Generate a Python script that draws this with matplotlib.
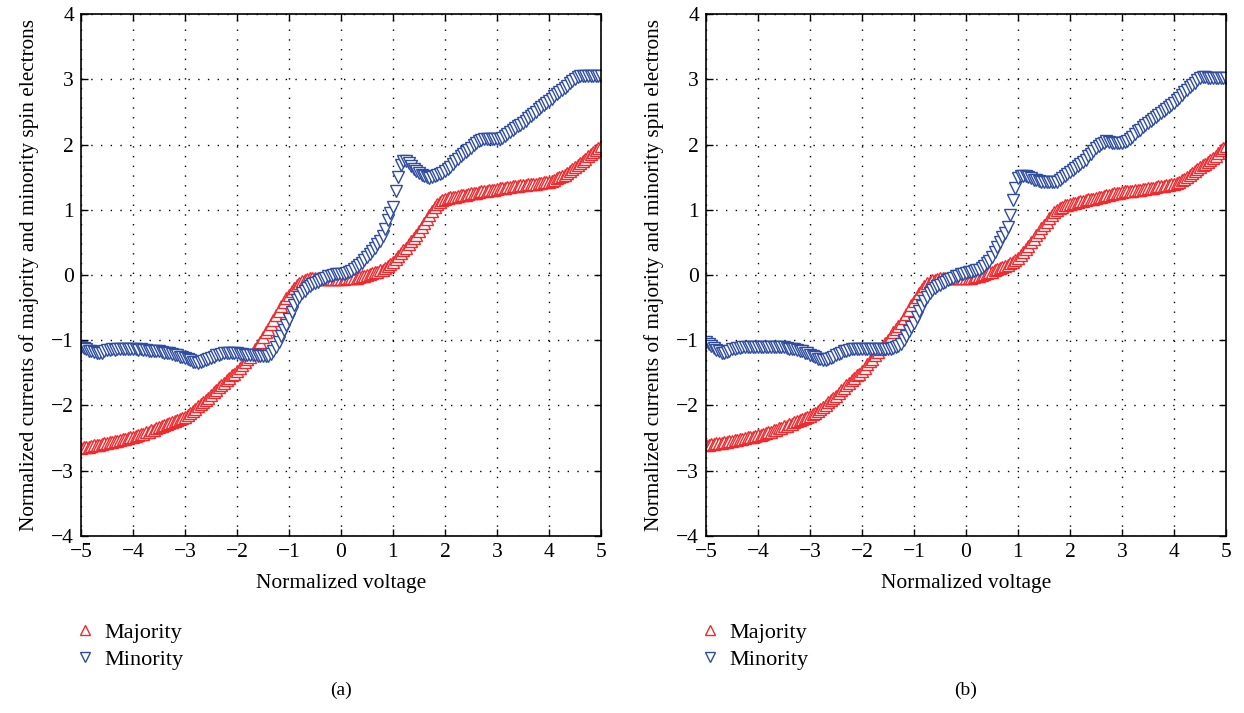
import numpy as np
import matplotlib
matplotlib.use("Agg")
import matplotlib.pyplot as plt
from matplotlib.lines import Line2D

plt.rcParams['font.family'] = ['Liberation Serif', 'DejaVu Serif']
plt.rcParams['font.size'] = 15

# normalized voltage, -5 .. 5 in steps of 0.05 (201 samples)
voltage = np.linspace(-5, 5, 201)

# panel (a)
major_a = [
    -2.65, -2.64, -2.64, -2.63, -2.62, -2.61, -2.61, -2.60, -2.59, -2.58, -2.57, -2.56, -2.56, -2.55, -2.54, -2.53, -2.52, -2.51, -2.50, -2.49,
    -2.48, -2.47, -2.45, -2.44, -2.43, -2.41, -2.40, -2.38, -2.37, -2.35, -2.33, -2.32, -2.30, -2.29, -2.27, -2.25, -2.24, -2.22, -2.20, -2.19,
    -2.17, -2.14, -2.11, -2.08, -2.05, -2.01, -1.98, -1.94, -1.91, -1.88, -1.84, -1.80, -1.76, -1.72, -1.69, -1.65, -1.61, -1.58, -1.54, -1.51,
    -1.47, -1.43, -1.38, -1.34, -1.29, -1.25, -1.19, -1.14, -1.08, -1.02, -0.95, -0.88, -0.82, -0.75, -0.69, -0.62, -0.55, -0.48, -0.42, -0.36,
    -0.30, -0.25, -0.20, -0.16, -0.12, -0.09, -0.07, -0.06, -0.05, -0.05, -0.05, -0.05, -0.06, -0.06, -0.06, -0.06, -0.06, -0.06, -0.06, -0.06,
    -0.06, -0.06, -0.05, -0.05, -0.05, -0.04, -0.04, -0.03, -0.02, -0.01, 0.00, 0.01, 0.03, 0.04, 0.05, 0.07, 0.08, 0.11, 0.14, 0.17,
    0.20, 0.24, 0.29, 0.33, 0.38, 0.42, 0.47, 0.52, 0.57, 0.62, 0.67, 0.73, 0.79, 0.86, 0.92, 0.98, 1.04, 1.09, 1.12, 1.15,
    1.17, 1.18, 1.19, 1.20, 1.20, 1.21, 1.22, 1.23, 1.23, 1.24, 1.25, 1.26, 1.26, 1.27, 1.28, 1.29, 1.29, 1.30, 1.31, 1.31,
    1.32, 1.33, 1.34, 1.34, 1.35, 1.35, 1.36, 1.37, 1.37, 1.38, 1.38, 1.38, 1.39, 1.39, 1.40, 1.40, 1.41, 1.41, 1.42, 1.42,
    1.43, 1.44, 1.46, 1.48, 1.50, 1.52, 1.54, 1.57, 1.60, 1.63, 1.66, 1.69, 1.72, 1.75, 1.78, 1.82, 1.85, 1.88, 1.91, 1.94,
    1.97,
]
minor_a = [
    -1.11, -1.12, -1.14, -1.16, -1.17, -1.18, -1.19, -1.19, -1.19, -1.17, -1.15, -1.15, -1.14, -1.15, -1.14, -1.14, -1.14, -1.13, -1.14, -1.14,
    -1.14, -1.14, -1.15, -1.14, -1.15, -1.15, -1.16, -1.16, -1.17, -1.17, -1.17, -1.18, -1.19, -1.20, -1.20, -1.21, -1.22, -1.23, -1.25, -1.26,
    -1.27, -1.29, -1.31, -1.33, -1.34, -1.35, -1.34, -1.32, -1.30, -1.28, -1.27, -1.25, -1.23, -1.22, -1.21, -1.20, -1.20, -1.19, -1.20, -1.20,
    -1.20, -1.21, -1.21, -1.22, -1.22, -1.23, -1.23, -1.23, -1.24, -1.24, -1.24, -1.24, -1.24, -1.21, -1.17, -1.10, -1.02, -0.94, -0.85, -0.77,
    -0.68, -0.56, -0.46, -0.39, -0.33, -0.28, -0.24, -0.20, -0.17, -0.14, -0.12, -0.10, -0.08, -0.06, -0.04, -0.02, -0.01, 0.00, 0.01, 0.01,
    0.02, 0.02, 0.03, 0.04, 0.06, 0.09, 0.12, 0.16, 0.19, 0.23, 0.27, 0.32, 0.37, 0.42, 0.47, 0.52, 0.60, 0.70, 0.84, 0.95,
    1.05, 1.28, 1.50, 1.68, 1.75, 1.75, 1.71, 1.67, 1.63, 1.59, 1.56, 1.53, 1.51, 1.50, 1.49, 1.50, 1.51, 1.53, 1.55, 1.57,
    1.60, 1.63, 1.66, 1.70, 1.74, 1.78, 1.82, 1.86, 1.89, 1.92, 1.95, 1.99, 2.03, 2.06, 2.07, 2.08, 2.08, 2.08, 2.08, 2.08,
    2.08, 2.09, 2.10, 2.13, 2.16, 2.19, 2.22, 2.25, 2.28, 2.30, 2.33, 2.36, 2.40, 2.43, 2.47, 2.50, 2.54, 2.57, 2.60, 2.64,
    2.67, 2.70, 2.74, 2.77, 2.80, 2.84, 2.87, 2.90, 2.94, 2.97, 3.00, 3.03, 3.05, 3.05, 3.05, 3.05, 3.05, 3.05, 3.05, 3.05,
    3.05,
]

# panel (b)
major_b = [
    -2.60, -2.60, -2.59, -2.59, -2.58, -2.58, -2.57, -2.56, -2.56, -2.55, -2.54, -2.53, -2.53, -2.52, -2.51, -2.50, -2.49, -2.48, -2.48, -2.47,
    -2.46, -2.45, -2.44, -2.42, -2.41, -2.40, -2.38, -2.37, -2.35, -2.34, -2.32, -2.31, -2.29, -2.28, -2.26, -2.24, -2.23, -2.21, -2.19, -2.18,
    -2.16, -2.13, -2.11, -2.08, -2.05, -2.02, -1.99, -1.95, -1.92, -1.88, -1.85, -1.81, -1.77, -1.73, -1.69, -1.65, -1.61, -1.58, -1.54, -1.51,
    -1.47, -1.42, -1.37, -1.32, -1.28, -1.23, -1.18, -1.13, -1.09, -1.04, -0.99, -0.94, -0.88, -0.83, -0.78, -0.73, -0.66, -0.60, -0.53, -0.46,
    -0.40, -0.34, -0.28, -0.22, -0.17, -0.13, -0.10, -0.08, -0.07, -0.06, -0.05, -0.05, -0.05, -0.05, -0.05, -0.05, -0.05, -0.05, -0.05, -0.05,
    -0.05, -0.05, -0.04, -0.03, -0.02, -0.01, 0.00, 0.01, 0.03, 0.04, 0.05, 0.07, 0.09, 0.11, 0.12, 0.14, 0.15, 0.18, 0.20, 0.23,
    0.26, 0.31, 0.36, 0.40, 0.45, 0.50, 0.55, 0.61, 0.66, 0.72, 0.77, 0.82, 0.87, 0.92, 0.97, 1.00, 1.03, 1.05, 1.07, 1.08,
    1.09, 1.10, 1.11, 1.12, 1.13, 1.14, 1.15, 1.16, 1.17, 1.17, 1.18, 1.19, 1.20, 1.21, 1.22, 1.23, 1.24, 1.25, 1.25, 1.26,
    1.27, 1.28, 1.28, 1.29, 1.29, 1.30, 1.31, 1.31, 1.32, 1.32, 1.33, 1.34, 1.34, 1.35, 1.36, 1.36, 1.37, 1.38, 1.38, 1.39,
    1.40, 1.41, 1.43, 1.45, 1.47, 1.50, 1.53, 1.56, 1.59, 1.62, 1.65, 1.68, 1.70, 1.73, 1.77, 1.80, 1.83, 1.87, 1.91, 1.94,
    1.98,
]
minor_b = [
    -1.03, -1.06, -1.09, -1.12, -1.15, -1.17, -1.19, -1.19, -1.18, -1.16, -1.14, -1.13, -1.12, -1.12, -1.11, -1.11, -1.11, -1.10, -1.10, -1.10,
    -1.10, -1.10, -1.10, -1.10, -1.10, -1.10, -1.10, -1.11, -1.11, -1.11, -1.11, -1.12, -1.13, -1.14, -1.14, -1.15, -1.16, -1.17, -1.19, -1.20,
    -1.22, -1.24, -1.26, -1.28, -1.29, -1.30, -1.30, -1.28, -1.27, -1.25, -1.23, -1.21, -1.19, -1.17, -1.16, -1.15, -1.14, -1.14, -1.14, -1.14,
    -1.14, -1.14, -1.14, -1.14, -1.14, -1.14, -1.14, -1.14, -1.14, -1.14, -1.14, -1.13, -1.12, -1.11, -1.09, -1.05, -0.99, -0.93, -0.86, -0.80,
    -0.73, -0.64, -0.55, -0.47, -0.40, -0.33, -0.27, -0.23, -0.20, -0.17, -0.15, -0.12, -0.10, -0.08, -0.06, -0.04, -0.02, -0.01, 0.01, 0.02,
    0.03, 0.04, 0.05, 0.06, 0.07, 0.08, 0.11, 0.14, 0.18, 0.22, 0.27, 0.35, 0.43, 0.50, 0.58, 0.65, 0.73, 0.92, 1.15, 1.33,
    1.48, 1.52, 1.52, 1.51, 1.50, 1.48, 1.46, 1.45, 1.44, 1.43, 1.42, 1.42, 1.42, 1.42, 1.42, 1.43, 1.45, 1.48, 1.51, 1.55,
    1.58, 1.61, 1.64, 1.67, 1.70, 1.73, 1.77, 1.82, 1.86, 1.90, 1.94, 1.98, 2.01, 2.03, 2.05, 2.04, 2.03, 2.03, 2.03, 2.03,
    2.03, 2.04, 2.05, 2.08, 2.12, 2.16, 2.20, 2.23, 2.27, 2.30, 2.33, 2.36, 2.39, 2.42, 2.45, 2.48, 2.51, 2.55, 2.58, 2.61,
    2.64, 2.68, 2.72, 2.76, 2.80, 2.84, 2.88, 2.92, 2.95, 2.99, 3.02, 3.03, 3.03, 3.02, 3.02, 3.02, 3.02, 3.02, 3.02, 3.02,
    3.02,
]

xticks = [-5, -4, -3, -2, -1, 0, 1, 2, 3, 4, 5]
yticks = [-4, -3, -2, -1, 0, 1, 2, 3, 4]
panel_labels = ['(a)', '(b)']

red = '#ee2a2e'
blue = '#2f4da0'

fig = plt.figure(figsize=(12.44, 7.13), dpi=100)
panels = [
    (0.0651, major_a, minor_a, panel_labels[0]),
    (0.5675, major_b, minor_b, panel_labels[1]),
]

for left, maj, mino, lab in panels:
    ax = fig.add_axes([left, 0.2483, 0.418, 0.732])
    ax.plot(voltage, maj, ls='none', marker='^', ms=8.5, mfc='white',
            mec=red, mew=1.0, label='Majority')
    ax.plot(voltage, mino, ls='none', marker='v', ms=8.5, mfc='white',
            mec=blue, mew=1.0, label='Minority')
    ax.set_xlim(-5, 5)
    ax.set_ylim(-4, 4)
    ax.set_xticks(xticks)
    ax.set_yticks(yticks)
    ax.grid(True, color='black', linestyle=(0, (1, 6)), linewidth=1.0)
    ax.tick_params(direction='in', length=5, width=1.0, top=True, right=True,
                   labelsize=15.5, pad=5)
    for s in ax.spines.values():
        s.set_linewidth(1.2)
    ax.set_xlabel('Normalized voltage', fontsize=15.5, labelpad=9)
    ax.set_ylabel('Normalized currents of majority and minority spin electrons',
                  fontsize=15.3, labelpad=9)

    handles = [
        Line2D([], [], ls='none', marker='^', ms=7.5, mfc='white', mec=red, mew=1.0),
        Line2D([], [], ls='none', marker='v', ms=7.5, mfc='white', mec=blue, mew=1.0),
    ]
    fig.legend(handles, ['Majority', 'Minority'], loc='upper left',
               bbox_to_anchor=(left - 0.001, 0.127), frameon=False, fontsize=16,
               handlelength=0.5, handletextpad=0.6, labelspacing=0.3,
               borderpad=0.0, borderaxespad=0.0)
    fig.text(left + 0.209, 0.032, lab, ha='center', va='center', fontsize=14)

fig.savefig('out.png', dpi=100)
